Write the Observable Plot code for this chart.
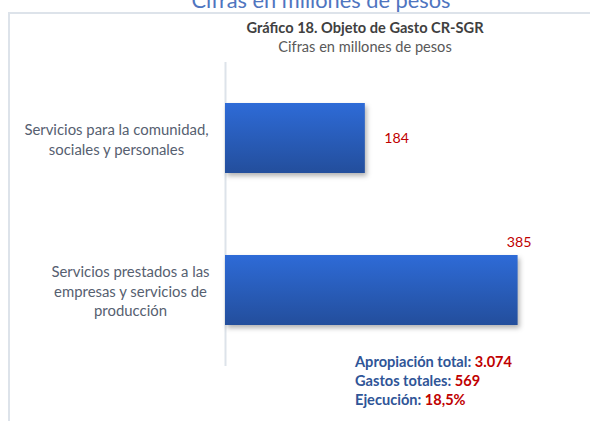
<!DOCTYPE html>
<html>
<head>
<meta charset="utf-8">
<script src="https://cdn.jsdelivr.net/npm/d3@7"></script>
<script src="https://cdn.jsdelivr.net/npm/@observablehq/plot@0.6"></script>
<style>
  html, body { margin: 0; padding: 0; background: #fff; }
  #wrap { position: relative; width: 590px; height: 421px; overflow: hidden; font-family: Lato, sans-serif; }
  .abs { position: absolute; white-space: nowrap; }
  #box { position: absolute; left: 8px; top: 12px; width: 700px; height: 500px; border-left: 2px solid #dde3ea; border-top: 2px solid #dde3ea; box-sizing: border-box; }
  #top { left: 0; width: 642px; text-align: center; top: -14.5px; font-size: 21.8px; color: #4f75bf; }
  #title { left: 0; width: 730px; text-align: center; top: 18.6px; font-size: 14.6px; font-weight: bold; color: #404040; }
  #subtitle { left: 0; width: 730px; text-align: center; top: 37.6px; font-size: 14.6px; color: #595959; }
  #footer { left: 355px; top: 351.5px; font-size: 14.6px; font-weight: bold; line-height: 19.3px; color: #2f5597; }
  #footer .v { color: #c00000; }
  svg { position: absolute; left: 0; top: 0; }
</style>
</head>
<body>
<div id="wrap">
  <div id="box"></div>
  <div class="abs" id="top"></div>
  <div class="abs" id="title"></div>
  <div class="abs" id="subtitle"></div>
  <div class="abs" id="footer"></div>
</div>
<script>
const categories = [
  "Servicios para la comunidad,\nsociales y personales",
  "Servicios prestados a las\nempresas y servicios de\nproducción"
];
const values = [184, 385];
const topText = "Cifras en millones de pesos";
const titleText = "Gráfico 18. Objeto de Gasto CR-SGR";
const subtitleText = "Cifras en millones de pesos";
const footerLabels = ["Apropiación total: ", "Gastos totales: ", "Ejecución: "];
const footerValues = ["3.074", "569", "18,5%"];

const data = categories.map((c, i) => ({cat: c, value: values[i]}));

document.getElementById("top").textContent = topText;
document.getElementById("title").textContent = titleText;
document.getElementById("subtitle").textContent = subtitleText;
const footer = document.getElementById("footer");
footerLabels.forEach((l, i) => {
  const line = document.createElement("div");
  line.appendChild(document.createTextNode(l));
  const v = document.createElement("span");
  v.className = "v";
  v.textContent = footerValues[i];
  line.appendChild(v);
  footer.appendChild(line);
});

const labelStyle = {fontSize: 14.9, fill: "#566070", textAnchor: "middle", lineHeight: 1.31, frameAnchor: "left"};

const plot = Plot.plot({
  width: 590,
  height: 421,
  marginLeft: 225,
  marginRight: 61,
  marginTop: 62,
  marginBottom: 55,
  x: {domain: [0, 400], axis: null},
  y: {domain: categories, paddingInner: 0.54, paddingOuter: 0.268, axis: null},
  style: {fontFamily: "Lato, sans-serif", background: "transparent", overflow: "visible"},
  marks: [
    Plot.ruleX([0], {stroke: "#dde3ea", strokeWidth: 2}),
    Plot.barX(data, {x: "value", y: "cat", fill: "url(#barGrad)"}),
    Plot.text([categories[0]], {y: d => d, text: d => d, dx: -109, ...labelStyle}),
    Plot.text([categories[1]], {y: d => d, text: d => d, dx: -95, ...labelStyle}),
    Plot.text([data[0]], {x: "value", y: "cat", text: d => String(d.value), dx: 19, textAnchor: "start", fill: "#c00000", fontSize: 14.2}),
    Plot.text([data[1]], {x: "value", y: "cat", text: d => String(d.value), dx: 1, dy: -48, textAnchor: "middle", fill: "#c00000", fontSize: 14.2})
  ]
});

const svg = d3.select(plot);
svg.insert("defs", ":first-child").html(
  '<linearGradient id="barGrad" x1="0" y1="0" x2="0" y2="1">' +
  '<stop offset="0%" stop-color="#2e6bd7"/>' +
  '<stop offset="100%" stop-color="#234e9c"/>' +
  '</linearGradient>'
);
svg.selectAll('g[aria-label="bar"] rect').style("filter", "drop-shadow(2px 3px 2.5px rgba(0,0,0,0.3))");

document.getElementById("wrap").appendChild(plot);
</script>
</body>
</html>
